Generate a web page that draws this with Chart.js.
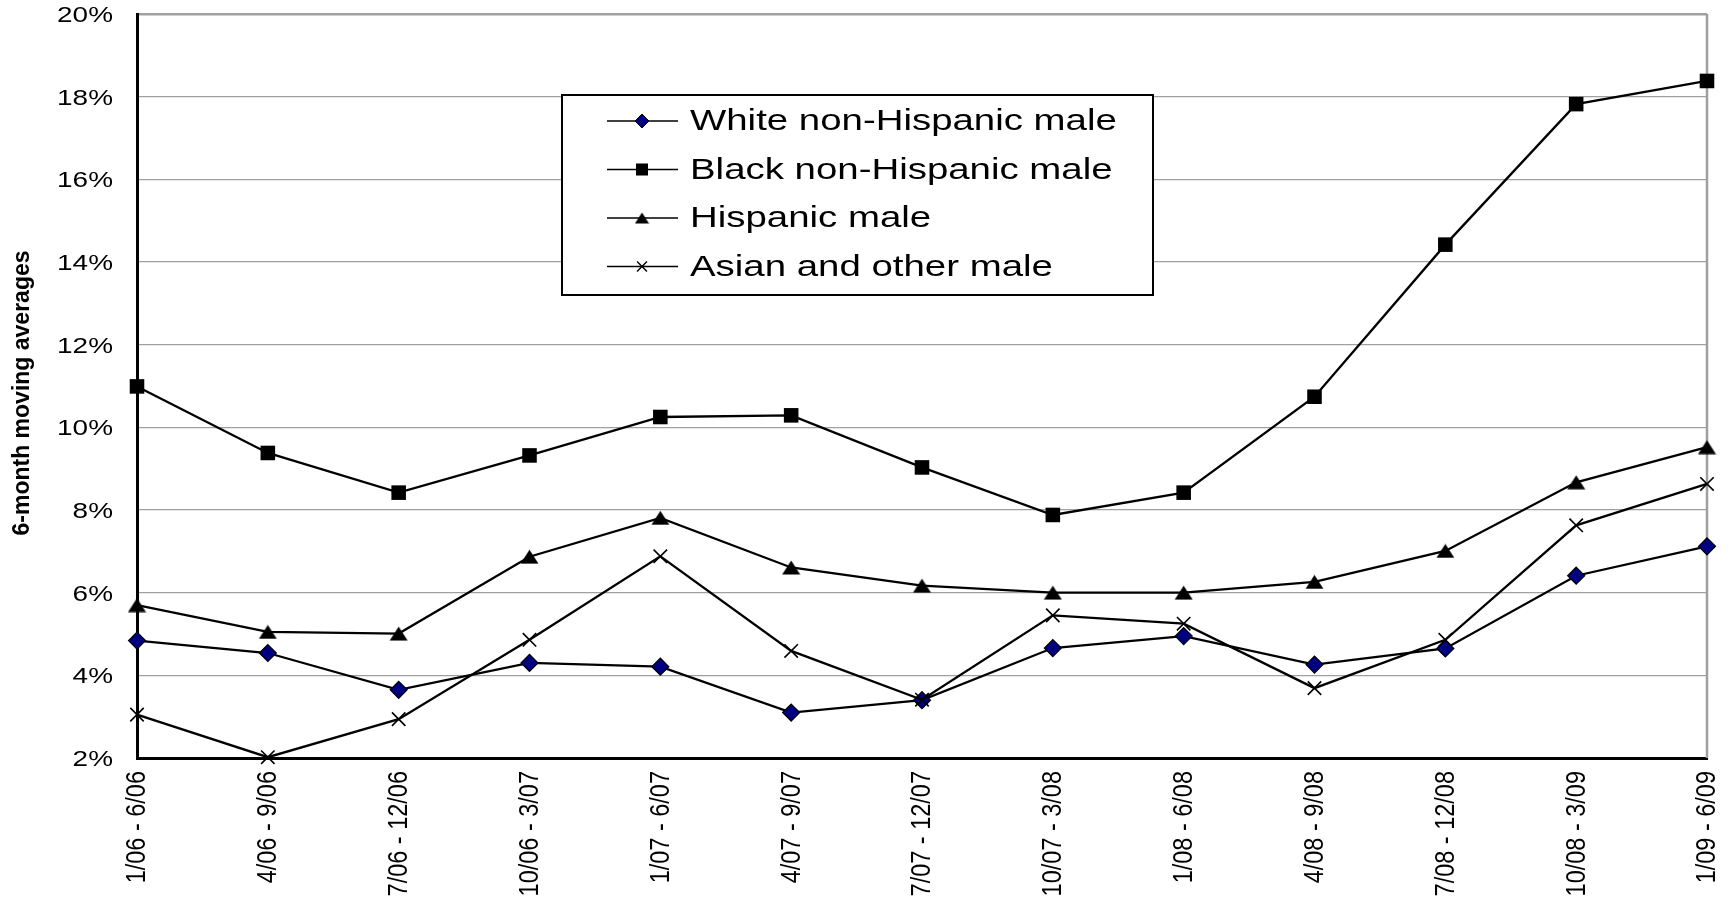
<!DOCTYPE html>
<html>
<head>
<meta charset="utf-8">
<script src="https://cdn.jsdelivr.net/npm/chart.js@4/dist/chart.umd.min.js"></script>
<style>
  html, body { margin: 0; padding: 0; background: #ffffff; }
  #wrap { width: 1732px; height: 898px; }
</style>
</head>
<body>
<div id="wrap"><canvas id="chart" width="1732" height="898"></canvas></div>
<script>
// Six-month periods on the category axis
const periods = [
  '1/06 - 6/06', '4/06 - 9/06', '7/06 - 12/06', '10/06 - 3/07', '1/07 - 6/07',
  '4/07 - 9/07', '7/07 - 12/07', '10/07 - 3/08', '1/08 - 6/08', '4/08 - 9/08',
  '7/08 - 12/08', '10/08 - 3/09', '1/09 - 6/09'
];

// 6-month moving averages, percent
const whiteMale      = [4.84, 4.54, 3.65, 4.30, 4.21, 3.10, 3.40, 4.66, 4.95, 4.26, 4.65, 6.41, 7.12];
const blackMale      = [10.99, 9.38, 8.42, 9.32, 10.25, 10.29, 9.03, 7.88, 8.42, 10.74, 14.42, 17.82, 18.38];
const hispanicMale   = [5.70, 5.05, 5.01, 6.87, 7.81, 6.61, 6.17, 6.00, 6.00, 6.26, 7.01, 8.67, 9.52];
const asianOtherMale = [3.05, 2.02, 2.94, 4.86, 6.88, 4.59, 3.41, 5.45, 5.25, 3.69, 4.86, 7.63, 8.63];

const seriesNames = [
  'White non-Hispanic male',
  'Black non-Hispanic male',
  'Hispanic male',
  'Asian and other male'
];

// Value axis range (percent)
const yMin = 2, yMax = 20, yStep = 2;
const yAxisTitle = '6-month moving averages';

const FONT = '"Liberation Sans", Arial, sans-serif';
const STRETCH = 1.27; // horizontal widening of the axis and key text

// Solid triangle marker centred on its bounding box
function triangleMarker(w, h) {
  const c = document.createElement('canvas');
  c.width = w; c.height = h;
  const g = c.getContext('2d');
  g.fillStyle = '#000';
  g.beginPath();
  g.moveTo(w / 2, 0.5);
  g.lineTo(w - 0.5, h - 0.5);
  g.lineTo(0.5, h - 0.5);
  g.closePath();
  g.fill();
  return c;
}
const triBig = triangleMarker(19, 15);
const triSmall = triangleMarker(15, 12);

function series(label, data, style, extra) {
  return Object.assign({
    label, data,
    borderColor: '#000',
    borderWidth: 2.3,
    tension: 0,
    fill: false,
    clip: false,
    pointStyle: style,
    pointBorderColor: '#000'
  }, extra);
}

const datasets = [
  series(seriesNames[0], whiteMale, 'rectRot',
    { pointRadius: 8.5, pointBackgroundColor: '#000080', pointBorderWidth: 1.2, order: 4,
      legendMarker: { pointStyle: 'rectRot', radius: 7, fill: '#000080', bw: 1 } }),
  series(seriesNames[1], blackMale, 'rect',
    { pointRadius: 10.3, pointBackgroundColor: '#000', pointBorderWidth: 0, order: 3,
      legendMarker: { pointStyle: 'rect', radius: 8.5, fill: '#000', bw: 0 } }),
  series(seriesNames[2], hispanicMale, triBig,
    { pointRadius: 9, pointBackgroundColor: '#000', pointBorderWidth: 0, order: 2,
      legendMarker: { pointStyle: triSmall, radius: 7, fill: '#000', bw: 0 } }),
  series(seriesNames[3], asianOtherMale, 'crossRot',
    { pointRadius: 9.5, pointBackgroundColor: '#000', pointBorderWidth: 1.6, order: 1,
      legendMarker: { pointStyle: 'crossRot', radius: 7, fill: '#000', bw: 1.4 } })
];

// Frame, axis labels and the boxed key inside the plot
const decorations = {
  id: 'decorations',
  beforeDatasetsDraw(chart) {
    const { ctx, chartArea: a } = chart;
    ctx.save();
    ctx.strokeStyle = '#a0a0a0';
    ctx.lineWidth = 2.5;
    ctx.beginPath();
    ctx.moveTo(a.right, a.top);
    ctx.lineTo(a.right, a.bottom);
    ctx.stroke();
    ctx.restore();
  },
  afterDraw(chart) {
    const { ctx, chartArea: a } = chart;
    const ys = chart.scales.y;
    const xs = chart.scales.x;

    ctx.save();
    ctx.fillStyle = '#000';

    // value axis title
    ctx.save();
    ctx.font = 'bold 23px ' + FONT;
    ctx.textAlign = 'center';
    ctx.textBaseline = 'middle';
    ctx.translate(23, (a.top + a.bottom) / 2 + 7);
    ctx.rotate(-Math.PI / 2);
    ctx.fillText(yAxisTitle, 0, 0);
    ctx.restore();

    // value axis labels
    ctx.font = '22px ' + FONT;
    ctx.textAlign = 'right';
    ctx.textBaseline = 'middle';
    ys.ticks.forEach(t => {
      const py = ys.getPixelForValue(t.value);
      ctx.save();
      ctx.translate(a.left - 24, py + 2);
      ctx.scale(STRETCH, 1);
      ctx.fillText(t.value + '%', 0, 0);
      ctx.restore();
    });

    // category labels, turned to read upwards
    ctx.font = '23.5px ' + FONT;
    ctx.textAlign = 'right';
    ctx.textBaseline = 'middle';
    chart.data.labels.forEach((lab, i) => {
      const px = xs.getPixelForValue(i);
      ctx.save();
      ctx.translate(px + 1, a.bottom + 13);
      ctx.rotate(-Math.PI / 2);
      ctx.scale(1, 1.15);
      ctx.fillText(lab, 0, 0);
      ctx.restore();
    });
    ctx.restore();

    // key box
    const bx = a.left + 425, by = a.top + 81, bw = 591, bh = 200;
    ctx.save();
    ctx.fillStyle = '#fff';
    ctx.fillRect(bx, by, bw, bh);
    ctx.strokeStyle = '#000';
    ctx.lineWidth = 2;
    ctx.strokeRect(bx, by, bw, bh);

    chart.data.datasets.forEach((ds, i) => {
      const cy = by + 26 + i * 48.5;
      ctx.strokeStyle = '#000';
      ctx.lineWidth = 1.6;
      ctx.beginPath();
      ctx.moveTo(bx + 45, cy);
      ctx.lineTo(bx + 116, cy);
      ctx.stroke();

      const m = ds.legendMarker;
      ctx.fillStyle = m.fill;
      ctx.strokeStyle = '#000';
      ctx.lineWidth = m.bw;
      Chart.helpers.drawPoint(ctx, { pointStyle: m.pointStyle, radius: m.radius, rotation: 0, borderWidth: m.bw }, bx + 80, cy);

      ctx.save();
      ctx.font = '30px ' + FONT;
      ctx.fillStyle = '#000';
      ctx.textAlign = 'left';
      ctx.textBaseline = 'middle';
      ctx.translate(bx + 128, cy + 1);
      ctx.scale(STRETCH + 0.01, 1);
      ctx.fillText(ds.label, 0, 0);
      ctx.restore();
    });
    ctx.restore();
  }
};

new Chart(document.getElementById('chart'), {
  type: 'line',
  data: { labels: periods, datasets },
  plugins: [decorations],
  options: {
    responsive: false,
    animation: false,
    events: [],
    devicePixelRatio: 1,
    layout: { padding: { top: 14, right: 25, left: 0, bottom: 0 } },
    plugins: { legend: { display: false }, tooltip: { enabled: false } },
    scales: {
      x: {
        type: 'category',
        offset: false,
        grid: { display: false, drawTicks: false },
        border: { display: true, color: '#000', width: 3 },
        ticks: { display: false, autoSkip: false },
        afterFit(scale) { scale.height = 140; }
      },
      y: {
        min: yMin,
        max: yMax,
        ticks: { stepSize: yStep, display: false },
        grid: {
          drawTicks: false,
          color: ctx => ctx.tick && ctx.tick.value === yMin ? 'rgba(0,0,0,0)' : '#a0a0a0',
          lineWidth: ctx => ctx.tick && ctx.tick.value === yMax ? 2.5 : 1.2
        },
        border: { display: true, color: '#000', width: 3 },
        title: { display: false },
        afterFit(scale) { scale.width = 137; }
      }
    }
  }
});
</script>
</body>
</html>
